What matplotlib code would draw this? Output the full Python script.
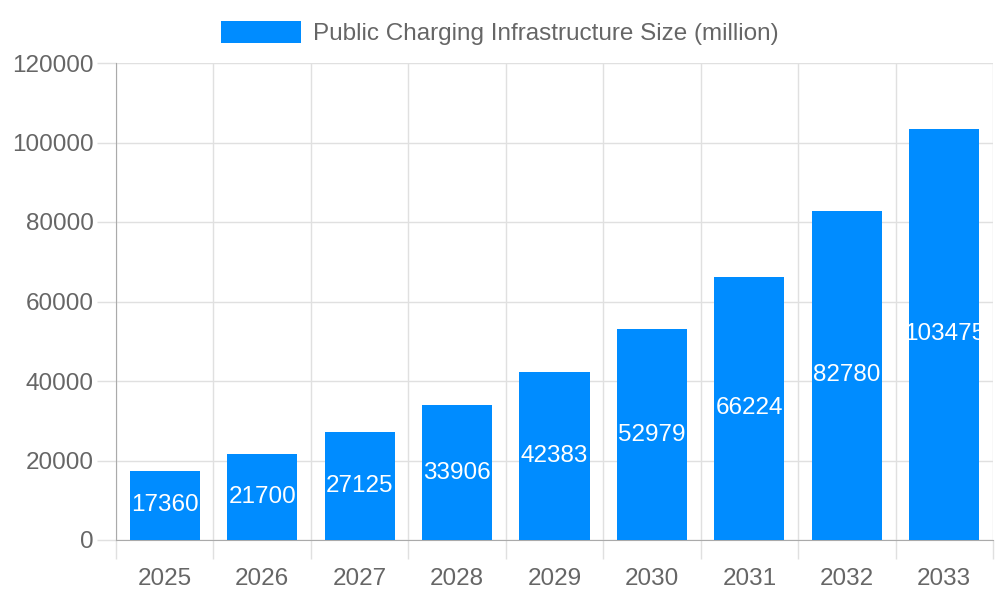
import matplotlib
matplotlib.use("Agg")
import matplotlib.pyplot as plt
import numpy as np

years = ["2025", "2026", "2027", "2028", "2029", "2030", "2031", "2032", "2033"]
values = [17360, 21700, 27125, 33906, 42383, 52979, 66224, 82780, 103475]
series_name = "Public Charging Infrastructure Size (million)"
yticks = [0, 20000, 40000, 60000, 80000, 100000, 120000]

plt.rcParams['font.family'] = ['Liberation Sans', 'DejaVu Sans']

fig = plt.figure(figsize=(10, 6), dpi=100)
ax = fig.add_axes([0.116, 0.1, 0.877, 0.795])

x = np.arange(len(years))
bar_color = "#008cff"
bars = ax.bar(x, values, width=0.72, color=bar_color, label=series_name, zorder=3)

for xi, v in zip(x, values):
    ax.text(xi, v / 2, str(v), ha="center", va="center", color="white",
            fontsize=17.5, zorder=4)

ax.set_xlim(-0.5, len(years) - 0.5)
ax.set_ylim(0, 120000)
ax.set_yticks(yticks)
ax.set_yticklabels([str(t) for t in yticks])
ax.set_xticks(x)
ax.set_xticklabels(years)
ax.set_xticks(np.arange(-0.5, len(years)), minor=True)

grid_c = "#e0e0e0"
axis_c = "#aaaaaa"
text_c = "#666666"
ax.grid(True, axis="y", which="major", color=grid_c, linewidth=1, zorder=0)
ax.grid(True, axis="x", which="minor", color=grid_c, linewidth=1, zorder=0)
ax.tick_params(axis="x", which="major", length=0, pad=20, labelsize=17.5, labelcolor=text_c)
ax.tick_params(axis="x", which="minor", length=13.5, color=grid_c, width=1)
ax.tick_params(axis="y", length=14, color=grid_c, width=1, pad=2, labelsize=17.5, labelcolor=text_c)

for s in ["top", "right"]:
    ax.spines[s].set_visible(False)
ax.spines["left"].set_color(axis_c)
ax.spines["bottom"].set_color(axis_c)

fig.canvas.draw()
ax.xaxis.get_minor_ticks()[0].tick1line.set_color(axis_c)
ax.yaxis.get_major_ticks()[0].tick1line.set_color(axis_c)

leg = fig.legend(handles=[bars], labels=[series_name], loc="center",
                 bbox_to_anchor=(0.5, 0.945), frameon=False, fontsize=17.5,
                 handlelength=3.3, handleheight=1.0, handletextpad=0.5,
                 labelcolor=text_c)

fig.savefig("out.png", dpi=100)
